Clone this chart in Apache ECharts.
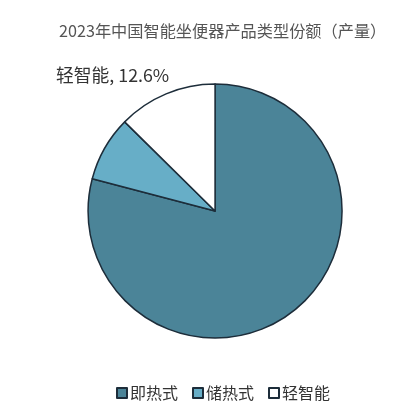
<!DOCTYPE html>
<html><head><meta charset="utf-8">
<script src="https://cdn.jsdelivr.net/npm/echarts@6/dist/echarts.min.js"></script>
<style>html,body{margin:0;padding:0;background:#fff}#c{width:405px;height:418px}</style>
</head><body><div id="c"></div>
<script>
const categories = ['即热式', '储热式', '轻智能'];
const values = [79.1, 8.3, 12.6];
const labelled = ['轻智能'];
const colors = ['#4b8498', '#67aec7', '#ffffff'];

const chart = echarts.init(document.getElementById('c'));
chart.setOption({
  animation: false,
  textStyle: { fontFamily: '"Noto Sans CJK SC", "Noto Sans", sans-serif' },
  title: {
    text: '2023年中国智能坐便器产品类型份额（产量）',
    left: 54, top: 18,
    textStyle: { fontSize: 16.2, fontWeight: 'normal', color: '#555', fontFamily: '"Noto Sans CJK SC", sans-serif' }
  },
  legend: {
    bottom: 12, left: 111,
    icon: 'rect', itemWidth: 10, itemHeight: 10, itemGap: 14,
    textStyle: { fontSize: 16, color: '#333', padding: [0, 0, 0, -2] },
    data: categories
  },
  series: [{
    type: 'pie',
    center: ['53.1%', '50.5%'],
    radius: 127,
    startAngle: 90,
    clockwise: true,
    data: categories.map((n, i) => ({
      name: n, value: values[i],
      itemStyle: { color: colors[i] },
      label: { show: labelled.includes(n) }
    })),
    itemStyle: { borderColor: '#1d2d3a', borderWidth: 1.5 },
    label: { formatter: '{b}, {c}%', fontSize: 17.8, color: '#333' },
    labelLine: { show: false },
    labelLayout: function () { return { x: 56, y: 75, align: 'left', verticalAlign: 'middle' }; },
    emphasis: { disabled: true }
  }]
});
</script></body></html>
